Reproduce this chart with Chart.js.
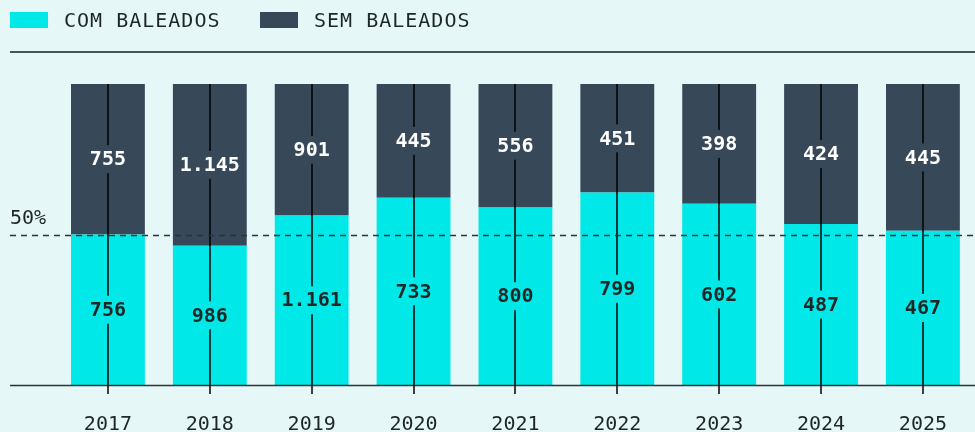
<!DOCTYPE html>
<html>
<head>
<meta charset="utf-8">
<script src="https://cdn.jsdelivr.net/npm/chart.js@4.4.1/dist/chart.umd.min.js"></script>
<style>
  html, body { margin: 0; padding: 0; background: #e6f7f7; overflow: hidden; }
  #wrap { width: 977px; height: 432px; position: relative; }
</style>
</head>
<body>
<div id="wrap"><canvas id="chart"></canvas></div>
<script>
// Data
const years = ['2017', '2018', '2019', '2020', '2021', '2022', '2023', '2024', '2025'];
const comBaleados = [756, 986, 1161, 733, 800, 799, 602, 487, 467];
const semBaleados = [755, 1145, 901, 445, 556, 451, 398, 424, 445];
const seriesLabels = ['COM BALEADOS', 'SEM BALEADOS'];
const refLine = 50;

const CYAN = '#00e8e8';
const DARK = '#374859';
const INK = '#1e2626';
const FONT = '"DejaVu Sans Mono", "Liberation Mono", monospace';

// shares of each year's total (100% stacked)
const totals = years.map((y, i) => comBaleados[i] + semBaleados[i]);
const comPct = comBaleados.map((v, i) => v / totals[i] * 100);
const semPct = semBaleados.map((v, i) => v / totals[i] * 100);
const raw = [comBaleados, semBaleados];

const fmt = (v) => new Intl.NumberFormat('pt-BR').format(v);

const decorations = {
  id: 'decorations',
  afterDatasetsDraw(c) {
    const ctx = c.ctx;
    const area = c.chartArea;
    const yScale = c.scales.y;
    const top = c.getDatasetMeta(1).data;
    const bottom = c.getDatasetMeta(0).data;
    ctx.save();

    // top rule
    ctx.strokeStyle = '#4a5454';
    ctx.lineWidth = 2;
    ctx.beginPath();
    ctx.moveTo(10, 52);
    ctx.lineTo(977, 52);
    ctx.stroke();

    // base line
    ctx.strokeStyle = '#2b3333';
    ctx.lineWidth = 1.5;
    ctx.beginPath();
    ctx.moveTo(10, area.bottom + 0.5);
    ctx.lineTo(977, area.bottom + 0.5);
    ctx.stroke();

    // vertical stems through bars
    ctx.strokeStyle = '#000';
    ctx.lineWidth = 1.5;
    top.forEach((bar) => {
      ctx.beginPath();
      ctx.moveTo(Math.round(bar.x), bar.y);
      ctx.lineTo(Math.round(bar.x), area.bottom + 9);
      ctx.stroke();
    });

    // 50% reference
    const yRef = Math.round(yScale.getPixelForValue(refLine)) + 0.5;
    ctx.setLineDash([6, 5]);
    ctx.strokeStyle = '#2b3333';
    ctx.lineWidth = 1.5;
    ctx.beginPath();
    ctx.moveTo(10, yRef);
    ctx.lineTo(977, yRef);
    ctx.stroke();
    ctx.setLineDash([]);
    ctx.fillStyle = INK;
    ctx.font = '20px ' + FONT;
    ctx.textAlign = 'left';
    ctx.textBaseline = 'alphabetic';
    ctx.fillText(refLine + '%', 10, yRef - 12);

    // value labels
    ctx.font = 'bold 20px ' + FONT;
    ctx.textAlign = 'center';
    ctx.textBaseline = 'middle';
    [bottom, top].forEach((bars, d) => {
      bars.forEach((bar, i) => {
        const cy = (bar.y + bar.base) / 2;
        const txt = fmt(raw[d][i]);
        const w = ctx.measureText(txt).width + 6;
        ctx.fillStyle = d === 0 ? CYAN : DARK;
        ctx.fillRect(bar.x - w / 2, cy - 14, w, 28);
        ctx.fillStyle = d === 0 ? INK : '#ffffff';
        ctx.fillText(txt, bar.x, cy + 1);
      });
    });

    // legend
    ctx.font = '20px ' + FONT;
    ctx.letterSpacing = '1px';
    ctx.textAlign = 'left';
    const legendX = [10, 260];
    c.data.datasets.forEach((ds, i) => {
      ctx.fillStyle = ds.backgroundColor;
      ctx.fillRect(legendX[i], 12, 38, 16);
      ctx.fillStyle = INK;
      ctx.fillText(ds.label, legendX[i] + 54, 22);
    });

    ctx.restore();
  },
};

new Chart(document.getElementById('chart'), {
  type: 'bar',
  data: {
    labels: years,
    datasets: [
      {
        label: seriesLabels[0],
        data: comPct,
        backgroundColor: CYAN,
        hoverBackgroundColor: CYAN,
        barPercentage: 0.725,
        categoryPercentage: 1,
      },
      {
        label: seriesLabels[1],
        data: semPct,
        backgroundColor: DARK,
        hoverBackgroundColor: DARK,
        barPercentage: 0.725,
        categoryPercentage: 1,
      },
    ],
  },
  options: {
    responsive: true,
    maintainAspectRatio: false,
    animation: false,
    layout: {
      padding: { top: 84, bottom: 0, left: 57, right: 0 },
    },
    scales: {
      x: {
        stacked: true,
        grid: { display: false, drawTicks: false },
        border: { display: false },
        afterFit(scale) { scale.height = 47; },
        ticks: {
          color: INK,
          padding: 30,
          font: { family: FONT, size: 20, lineHeight: 1 },
        },
      },
      y: {
        stacked: true,
        display: false,
        min: 0,
        max: 100,
      },
    },
    plugins: {
      legend: { display: false },
      tooltip: { enabled: false },
    },
  },
  plugins: [decorations],
});
</script>
</body>
</html>
